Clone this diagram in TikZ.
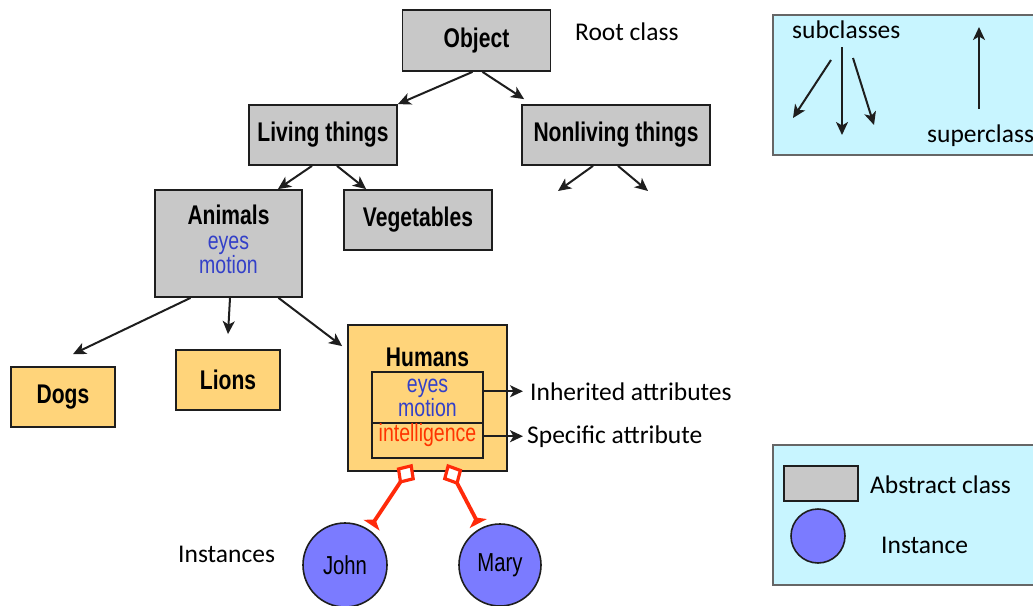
\documentclass[tikz,border=0pt]{standalone}
\usepackage{fontspec}
\usetikzlibrary{arrows.meta}
\newfontfamily\boxfont[FakeStretch=0.78]{Liberation Sans}
\newfontfamily\notefont{Carlito}
\definecolor{absfill}{HTML}{C8C8C8}
\definecolor{concfill}{HTML}{FFD47A}
\definecolor{legendfill}{HTML}{C8F5FF}
\definecolor{instfill}{HTML}{7B7BFF}
\definecolor{attrblue}{HTML}{3340C8}
\definecolor{attrred}{HTML}{FF3300}
\definecolor{linkred}{HTML}{FF2A0A}
\definecolor{edge}{HTML}{1E1E1E}

\begin{document}
\begin{tikzpicture}[x=1pt,y=-1pt,
  classbox/.style={draw=edge, line width=1.8pt, inner sep=0pt,
    font=\boxfont\bfseries\fontsize{27}{30}\selectfont},
  abstract/.style={classbox, fill=absfill},
  concrete/.style={classbox, fill=concfill},
  title/.style={font=\boxfont\bfseries\fontsize{27}{30}\selectfont, inner sep=0pt},
  attr/.style={font=\boxfont\fontsize{25}{24}\selectfont, inner sep=0pt, align=center},
  attrbox/.style={draw=edge, line width=1.8pt, inner sep=0pt, minimum width=111pt},
  note/.style={font=\notefont\fontsize{25.5}{28}\selectfont, inner sep=0pt, anchor=base west},
  link/.style={draw=edge, line width=2pt, -{Stealth[length=13pt,width=12pt,inset=3.5pt]}},
  instance/.style={circle, draw=edge, line width=1.6pt, fill=instfill, inner sep=0pt,
    font=\boxfont\fontsize{26}{28}\selectfont},
  legend/.style={draw=black!60, line width=1.5pt, fill=legendfill, inner sep=0pt},
  member/.style={draw=linkred, line width=3.8pt,
    {Diamond[fill=white,length=24pt,width=22pt,line width=3.2pt]}-{Triangle[reversed,length=7pt,width=19pt]}}
]
\useasboundingbox (0,0) rectangle (1033,605);
\clip (0,0) rectangle (1033,605);

% class hierarchy
\node[abstract, minimum width=148pt, minimum height=61pt] (object) at (476.5,40.5) {Object};
\node[abstract, minimum width=148pt, minimum height=60pt] (living) at (323,135) {Living things};
\node[abstract, minimum width=188pt, minimum height=60pt] (nonliving) at (616,135) {Nonliving things};
\node[abstract, minimum width=147pt, minimum height=107pt] (animals) at (228.5,243.5) {};
\node[title] (animalsname) at (228.5,215) {Animals};
\node[attr, text=attrblue] (animalsattr) at (228.5,255) {eyes\\motion};
\node[abstract, minimum width=148pt, minimum height=60pt] (vegetables) at (418,220) {Vegetables};
\node[concrete, minimum width=104pt, minimum height=60pt] (dogs) at (63,397) {Dogs};
\node[concrete, minimum width=104pt, minimum height=60pt] (lions) at (228,380) {Lions};
\node[concrete, minimum width=159pt, minimum height=146pt] (humans) at (427.5,398) {};
\node[title] (humansname) at (427.5,357) {Humans};
\node[attrbox, minimum height=51pt, attr, text=attrblue] (inh) at (427.5,397.5) {eyes\\motion};
\node[attrbox, minimum height=35pt] (spec) at (427.5,440.5) {};
\node[attr, text=attrred] (intel) at (427.5,435) {intelligence};

\coordinate (nl1) at (558,191);
\coordinate (nl2) at (648,191);

\draw[link] ([xshift=-4pt]object.south) -- (living.north east);
\draw[link] ([xshift=6pt]object.south) -- ([xshift=3pt,yshift=5pt]nonliving.north west);
\draw[link] ([xshift=-11pt]living.south) -- ([xshift=-25pt]animals.north east);
\draw[link] ([xshift=14pt]living.south) -- ([xshift=23pt]vegetables.north west);
\draw[link] ([xshift=-23pt]nonliving.south) -- (nl1);
\draw[link] ([xshift=2pt]nonliving.south) -- (nl2);
\draw[link] ([xshift=-38pt]animals.south) -- ([xshift=10pt,yshift=12pt]dogs.north);
\draw[link] ([xshift=1.5pt]animals.south) -- ([yshift=15pt]lions.north);
\draw[link] ([xshift=50pt]animals.south) -- ([xshift=-5pt,yshift=-22pt]humans.north west);

% side notes
\node[note] (rootlbl) at (575,40) {Root class};
\node[note] (inhlbl) at (530,400) {Inherited attributes};
\node[note] (speclbl) at (527,443) {Specific attribute};
\node[note] (instlbl) at (178,562) {Instances};

\draw[link] (inh.east |- inhlbl.west) -- ([xshift=-7pt]inhlbl.west);
\draw[link] (spec.east |- speclbl.west) -- ([xshift=-4pt]speclbl.west);

% instances
\node[instance, minimum size=84pt] (john) at (345,565) {John};
\node[instance, minimum size=82pt] (mary) at (500,565) {Mary};
\draw[member, shorten >=5pt] ([xshift=-15pt,yshift=8pt]humans.south) -- (john);
\draw[member, shorten >=5pt] ([xshift=19.5pt,yshift=8pt]humans.south) -- (mary);

% legend: hierarchy direction
\node[legend, minimum width=272pt, minimum height=140pt] (legtop) at (909,85) {};
\node[note] (sublbl) at (792,38) {subclasses};
\node[note] (suplbl) at (927,142) {superclass};
\coordinate (s1a) at (831,60);  \coordinate (s1b) at (793,118);
\coordinate (s2a) at (842,47);  \coordinate (s2b) at (842,135);
\coordinate (s3a) at (853,58);  \coordinate (s3b) at (874,125);
\coordinate (upa) at (979,109); \coordinate (upb) at (979,27);
\draw[link] (s1a) -- (s1b);
\draw[link] (s2a) -- (s2b);
\draw[link] (s3a) -- (s3b);
\draw[link] (upa) -- (upb);

% legend: node kinds
\node[legend, minimum width=272pt, minimum height=140pt] (legbot) at (909,515) {};
\node[abstract, minimum width=74pt, minimum height=35pt] (legabs) at (821,483.5) {};
\node[instance, minimum size=54pt] (leginst) at (818,536) {};
\node[note] (abslbl) at (870,493) {Abstract class};
\node[note] (instkind) at (881,553) {Instance};
\end{tikzpicture}
\end{document}
